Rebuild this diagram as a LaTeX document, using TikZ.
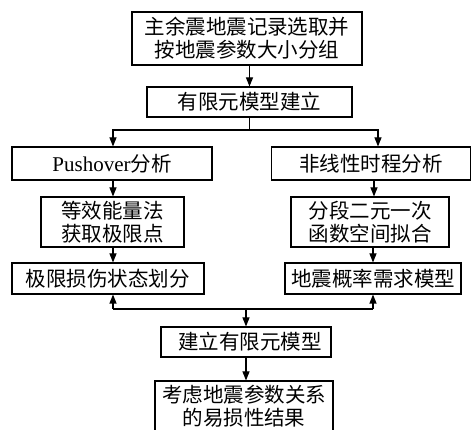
\documentclass[tikz,border=0pt]{standalone}
\usepackage{fontspec}
\setmainfont{Liberation Serif}
\newfontfamily\cjk{Noto Sans CJK SC}
\usetikzlibrary{arrows.meta}
\tikzset{
  box/.style={draw, line width=1.1pt, inner sep=0pt, align=center,
    font=\cjk\fontsize{20.5}{23}\selectfont},
  arr/.style={line width=1.1pt, -{Triangle[length=9pt,width=7pt]}},
  ln/.style={line width=1.1pt}
}
\begin{document}
\begin{tikzpicture}[x=1pt,y=-1pt]
\useasboundingbox (0,0) rectangle (472,430);
\clip (0,0) rectangle (472,430);
\node[box, minimum width=230, minimum height=53] (b1) at (247,38.5) {主余震地震记录选取并\\按地震参数大小分组};
\node[box, minimum width=205, minimum height=30] (b2) at (249.5,102) {有限元模型建立};
\node[box, minimum width=200, minimum height=33] (b3) at (112,163.5) {{\rmfamily\fontsize{21}{23}\selectfont Pushover}分析};
\node[box, minimum width=199, minimum height=33] (b4) at (371,163.5) {非线性时程分析};
\node[box, minimum width=143, minimum height=50] (b5) at (112.5,222) {等效能量法\\获取极限点};
\node[box, minimum width=158, minimum height=50] (b6) at (370,222) {分段二元一次\\函数空间拟合};
\node[box, minimum width=192, minimum height=31] (b7) at (108,278.5) {极限损伤状态划分};
\node[box, minimum width=176, minimum height=31] (b8) at (373,278.5) {地震概率需求模型};
\node[box, minimum width=170, minimum height=30] (b9) at (246,342) {\hspace{8pt}建立有限元模型};
\node[box, minimum width=178, minimum height=50] (b10) at (244,406) {考虑地震参数关系\\的易损性结果};
\coordinate (j1) at (249.5,130);
\coordinate (j2) at (246,309);
\draw[arr] (b1.south -| b2.north) -- (b2.north);
\draw[ln] (b2.south) -- (j1);
\draw[arr] (j1) -| ([xshift=1]b3.north);
\draw[arr] (j1) -| ([xshift=7]b4.north);
\draw[arr] ([xshift=1]b3.south) -- ([xshift=1]b3.south |- b5.north);
\draw[arr] ([xshift=3]b4.south) -- ([xshift=3]b4.south |- b6.north);
\draw[arr] ([xshift=0.5]b5.south) -- ([xshift=0.5]b5.south |- b7.north);
\draw[arr] ([xshift=3]b6.south) -- ([xshift=3]b6.south |- b8.north);
\draw[ln] ([xshift=5]b7.south |- j2) -- ([xshift=0]b8.south |- j2);
\draw[arr] ([xshift=5]b7.south |- j2) -- ([xshift=5]b7.south);
\draw[arr] (b8.south |- j2) -- (b8.south);
\draw[arr] (j2) -- (j2 |- b9.north);
\draw[arr] (b9.south) -- (b9.south |- b10.north);
\end{tikzpicture}
\end{document}
